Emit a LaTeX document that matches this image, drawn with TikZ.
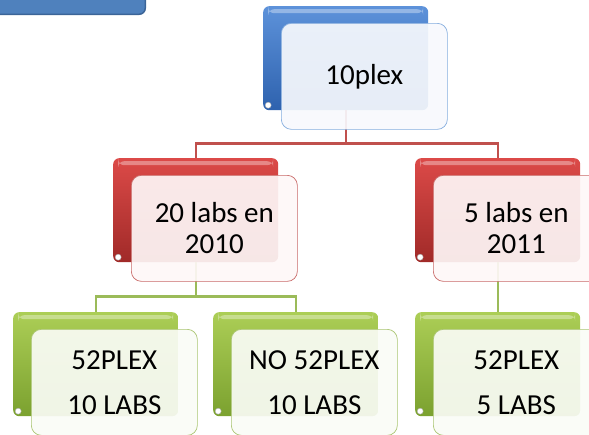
\documentclass[tikz,border=0pt]{standalone}
\usepackage{fontspec}
\setmainfont{Carlito}
\usetikzlibrary{positioning}

\definecolor{bluetop}{HTML}{5D92DA}
\definecolor{bluebot}{HTML}{2E62AE}
\definecolor{bluefill}{HTML}{F7F9FD}
\definecolor{blueline}{HTML}{6F9ED8}
\definecolor{redtop}{HTML}{DC4A48}
\definecolor{redbot}{HTML}{A02A28}
\definecolor{redfill}{HTML}{FEF7F7}
\definecolor{redline}{HTML}{C0504D}
\definecolor{greentop}{HTML}{ACCE56}
\definecolor{greenbot}{HTML}{7BA12F}
\definecolor{greenfill}{HTML}{FAFCF6}
\definecolor{greenline}{HTML}{9BBB59}
\definecolor{cornerfill}{HTML}{4F81BD}
\definecolor{cornerline}{HTML}{3B6497}

\tikzset{
    backbox/.style={rounded corners=6pt, minimum width=165pt, minimum height=104pt, inner sep=0pt,
        top color=#1top, bottom color=#1bot,
        path picture={
            \fill[white,opacity=.35] ([xshift=5pt,yshift=-3pt]path picture bounding box.north west) rectangle ([xshift=-5pt,yshift=-7pt]path picture bounding box.north east);
            \filldraw[white,draw=gray!60] ([xshift=5pt,yshift=5pt]path picture bounding box.south west) circle (3pt);
        }},
    frontbox/.style={rounded corners=10pt, minimum width=166pt, minimum height=106pt, inner sep=0pt,
        draw=#1line!85, line width=0.7pt, fill=#1fill, fill opacity=0.92, text opacity=1,
        align=center, font=\fontsize{29}{31}\selectfont},
    link/.style={line width=2.2pt, draw=#1line}
}

\begin{document}
\begin{tikzpicture}[x=1pt,y=-1pt]
    \useasboundingbox (0,0) rectangle (589,434);
    \clip (0,0) rectangle (589,434);

    % corner box
    \node [anchor=south east, minimum width=220pt, minimum height=60pt, rounded corners=6pt,
           fill=cornerfill, draw=cornerline, line width=1.5pt] (corner) at (146,15) {};

    %%%%%%%%%%%%%%%% back boxes %%%%%%%%%%%%%%%%
    \node [backbox=blue, anchor=north west] (b10) at (263,6) {};
    \node [backbox=red, anchor=north west] (b20) at (113,158) {};
    \node [backbox=red, anchor=north west] (b5) at (415,158) {};
    \node [backbox=green, anchor=north west] (g1) at (13,312) {};
    \node [backbox=green, anchor=north west] (g2) at (213,312) {};
    \node [backbox=green, anchor=north west] (g3) at (415,312) {};

    % links
    \draw [link=red] (b10.south) -- +(0,33) -| (b20.north);
    \draw [link=red] (b10.south) -- +(0,33) -| (b5.north);
    \draw [link=green] (b20.south) -- +(0,34) -| (g1.north);
    \draw [link=green] (b20.south) -- +(0,34) -| (g2.north);
    \draw [link=green] (b5.south) -- (g3.north);

    %%%%%%%%%%%%%%%% front boxes %%%%%%%%%%%%%%%%
    \node [frontbox=blue, anchor=north west] (f10) at ([xshift=18pt,yshift=-17pt]b10.north west) {10plex};
    \node [frontbox=red, anchor=north west] (f20) at ([xshift=18pt,yshift=-17pt]b20.north west) {20 labs en\\2010};
    \node [frontbox=red, anchor=north west] (f5) at ([xshift=18pt,yshift=-17pt]b5.north west) {5 labs en\\2011};
    \node [frontbox=green, anchor=north west] (h1) at ([xshift=18pt,yshift=-17pt]g1.north west) {52PLEX\\[14pt]10 LABS};
    \node [frontbox=green, anchor=north west] (h2) at ([xshift=18pt,yshift=-17pt]g2.north west) {NO 52PLEX\\[14pt]10 LABS};
    \node [frontbox=green, anchor=north west] (h3) at ([xshift=18pt,yshift=-17pt]g3.north west) {52PLEX\\[14pt]5 LABS};

\end{tikzpicture}
\end{document}
